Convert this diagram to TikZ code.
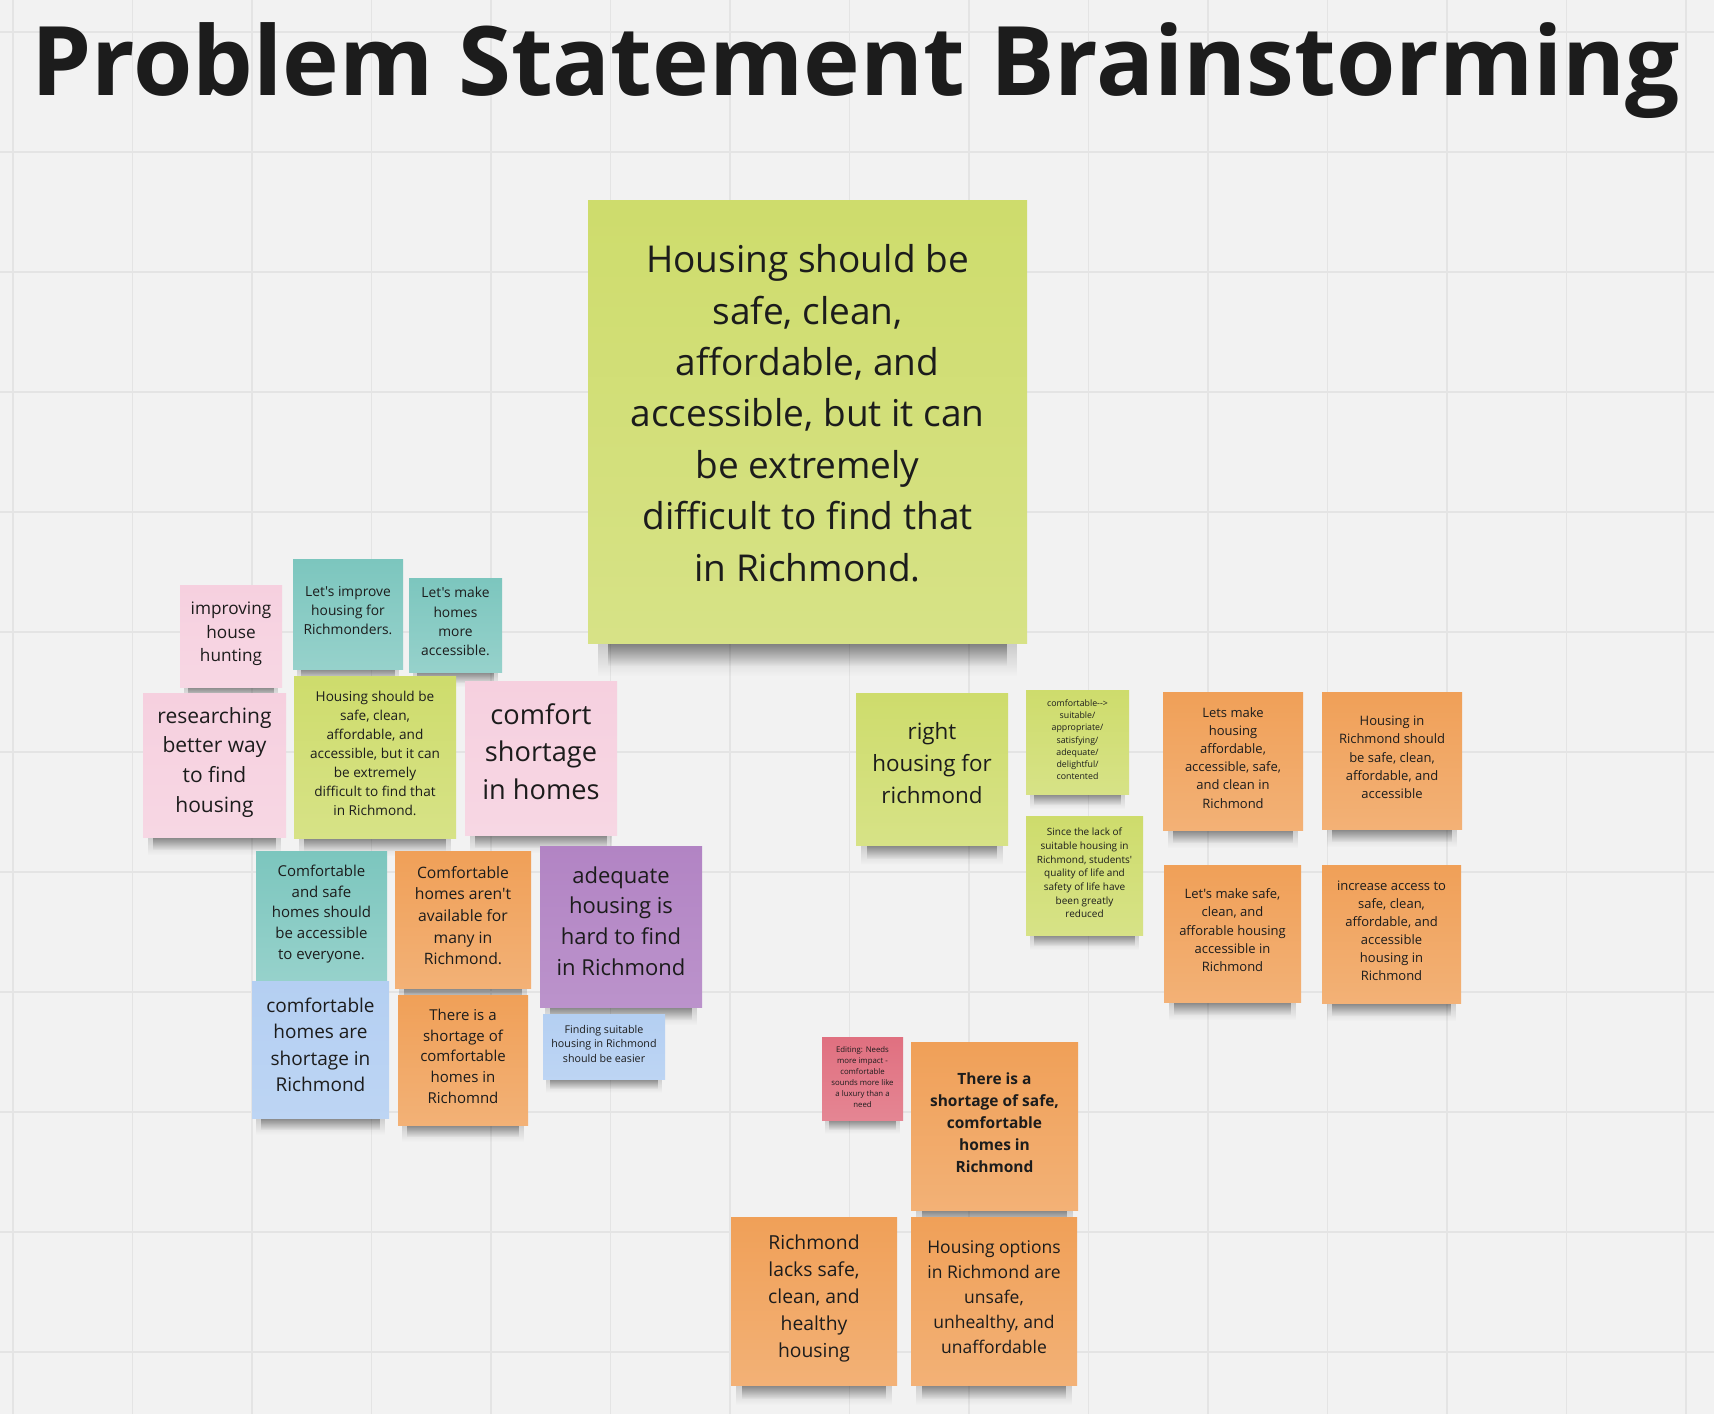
\documentclass[tikz,border=0pt]{standalone}
\usepackage{fontspec}
\setmainfont{Open Sans}[Ligatures=TeXOff]
\usepackage{xcolor}
\definecolor{boardbg}{RGB}{242,242,242}
\definecolor{boardgrid}{RGB}{228,228,228}
\definecolor{inkdark}{RGB}{28,28,28}
\definecolor{stlime}{RGB}{206,220,108}
\definecolor{stpink}{RGB}{246,208,223}
\definecolor{stteal}{RGB}{124,198,190}
\definecolor{storange}{RGB}{240,160,88}
\definecolor{stpurple}{RGB}{178,132,196}
\definecolor{stblue}{RGB}{180,207,242}
\definecolor{stred}{RGB}{224,112,128}
\usepackage{tikz}
\usetikzlibrary{calc, fadings}
\pgfdeclarelayer{boardlayer}
\pgfdeclarelayer{shadelayer}
\pgfsetlayers{boardlayer,shadelayer,main}
\newcommand{\nfont}[2]{\fontsize{#1bp}{#2bp}\selectfont}

\tikzset{
  sticky/.style={rectangle, inner sep=0pt, align=center, text=inkdark},
  notetext/.style 2 args={font=\nfont{#1}{#2}, text depth={0.5*#1bp}},
  limenote/.style={sticky, top color=stlime, bottom color=stlime!82!white},
  pinknote/.style={sticky, top color=stpink, bottom color=stpink!85!white},
  tealnote/.style={sticky, top color=stteal, bottom color=stteal!80!white},
  orangenote/.style={sticky, top color=storange, bottom color=storange!82!white},
  purplenote/.style={sticky, top color=stpurple, bottom color=stpurple!88!white},
  bluenote/.style={sticky, top color=stblue, bottom color=stblue!88!white},
  rednote/.style={sticky, top color=stred, bottom color=stred!85!white},
}

\begin{document}
\begin{tikzpicture}[x=1bp, y=-1bp]
  \useasboundingbox (0,0) rectangle (1714,1414);

  % Board and grid
  \begin{pgfonlayer}{boardlayer}
    \fill[boardbg] (0,0) rectangle (1714,1414);
    \foreach \k in {0,...,14}
      \draw[boardgrid, line width=1.3bp] ({13+119.5*\k},0) -- ({13+119.5*\k},1414);
    \foreach \k in {0,...,11}
      \draw[boardgrid, line width=1.3bp] (0,{32+120*\k}) -- (1714,{32+120*\k});
  \end{pgfonlayer}

  % Title
  \node[font=\bfseries\nfont{96}{110}, text=inkdark, anchor=base] (title) at (855.5,96) {Problem Statement Brainstorming};

  % --- Main statement ---
  \node[limenote, minimum width=439bp, minimum height=442bp, notetext={37}{51.4}] (mainstmt) at (807.5,422)
    {Housing should be\\safe, clean,\\affordable, and\\accessible, but it can\\be extremely\\difficult to find that\\in Richmond.};

  % --- Left cluster ---
  \node[pinknote, minimum width=102bp, minimum height=102bp, notetext={17.2}{23.3}] (hunting) at (231,636)
    {improving\\house\\hunting};
  \node[tealnote, minimum width=110bp, minimum height=110bp, notetext={13.8}{19}] (improve) at (348,614)
    {Let's improve\\housing for\\Richmonders.};
  \node[tealnote, minimum width=93bp, minimum height=94bp, notetext={13.8}{19.3}] (makehomes) at (455.5,625)
    {Let's make\\homes\\more\\accessible.};
  \node[pinknote, minimum width=143bp, minimum height=144bp, notetext={21}{29.7}] (research) at (214.5,765)
    {researching\\better way\\to find\\housing};
  \node[limenote, minimum width=162bp, minimum height=162bp, notetext={13.6}{19}] (smallstmt) at (375,757)
    {Housing should be\\safe, clean,\\affordable, and\\accessible, but it can\\be extremely\\difficult to find that\\in Richmond.};
  \node[pinknote, minimum width=152bp, minimum height=154bp, notetext={27.2}{37.5}] (comfort) at (541,758)
    {comfort\\shortage\\in homes};
  \node[tealnote, minimum width=131bp, minimum height=130bp, notetext={15}{20.8}] (safehomes) at (321.5,916)
    {Comfortable\\and safe\\homes should\\be accessible\\to everyone.};
  \node[orangenote, minimum width=136bp, minimum height=137bp, notetext={15.7}{21.7}] (available) at (463,919.5)
    {Comfortable\\homes aren't\\available for\\many in\\Richmond.};
  \node[purplenote, minimum width=162bp, minimum height=161bp, notetext={22}{30.9}] (adequate) at (621,926.5)
    {adequate\\housing is\\hard to find\\in Richmond};
  \node[bluenote, minimum width=137bp, minimum height=137bp, notetext={19}{26.4}] (shortblue) at (320.5,1049.5)
    {comfortable\\homes are\\shortage in\\Richmond};
  \node[orangenote, minimum width=130bp, minimum height=130bp, notetext={15}{20.8}] (shortorange) at (463,1060)
    {There is a\\shortage of\\comfortable\\homes in\\Richomnd};
  \node[bluenote, minimum width=122bp, minimum height=65bp, notetext={10.7}{14.7}] (finding) at (604,1046.5)
    {Finding suitable\\housing in Richmond\\should be easier};

  % --- Right cluster ---
  \node[limenote, minimum width=152bp, minimum height=152bp, notetext={22.4}{32}] (righthousing) at (932,769)
    {right\\housing for\\richmond};
  \node[limenote, minimum width=103bp, minimum height=104bp, notetext={8.8}{12.2}] (synonyms) at (1077.5,742)
    {comfortable-->\\suitable/\\appropriate/\\satisfying/\\adequate/\\delightful/\\contented};
  \node[limenote, minimum width=117bp, minimum height=119bp, notetext={10}{13.7}] (students) at (1084.5,875.5)
    {Since the lack of\\suitable housing in\\Richmond, students'\\quality of life and\\safety of life have\\been greatly\\reduced};
  \node[orangenote, minimum width=140bp, minimum height=138bp, notetext={13}{18.2}] (letsmake) at (1233,761)
    {Lets make\\housing\\affordable,\\accessible, safe,\\and clean in\\Richmond};
  \node[orangenote, minimum width=140bp, minimum height=137bp, notetext={13}{18.3}] (richshould) at (1392,760.5)
    {Housing in\\Richmond should\\be safe, clean,\\affordable, and\\accessible};
  \node[orangenote, minimum width=137bp, minimum height=137bp, notetext={13}{18.3}] (afforable) at (1232.5,933.5)
    {Let's make safe,\\clean, and\\afforable housing\\accessible in\\Richmond};
  \node[orangenote, minimum width=139bp, minimum height=138bp, notetext={13}{18.1}] (increase) at (1391.5,934)
    {increase access to\\safe, clean,\\affordable, and\\accessible\\housing in\\Richmond};

  % --- Bottom cluster ---
  \node[rednote, minimum width=81bp, minimum height=83bp, notetext={7.8}{11}] (editing) at (862.5,1078.5)
    {Editing: Needs\\more impact -\\comfortable\\sounds more like\\a luxury than a\\need};
  \node[orangenote, minimum width=167bp, minimum height=168bp, notetext={15.5}{22}, font=\bfseries\nfont{15.5}{22}] (finalstmt) at (994.5,1126)
    {There is a\\shortage of safe,\\comfortable\\homes in\\Richmond};
  \node[orangenote, minimum width=166bp, minimum height=168bp, notetext={19.3}{26.8}] (lacks) at (814,1301)
    {Richmond\\lacks safe,\\clean, and\\healthy\\housing};
  \node[orangenote, minimum width=166bp, minimum height=168bp, notetext={17.5}{25}] (options) at (994,1301)
    {Housing options\\in Richmond are\\unsafe,\\unhealthy, and\\unaffordable};

  % Shadows under the notes
  \begin{pgfonlayer}{shadelayer}
    \foreach \n/\d in {mainstmt/20, hunting/8, improve/8, makehomes/8, research/10, smallstmt/10,
                       comfort/10, safehomes/9, available/9, adequate/10, shortblue/9, shortorange/9,
                       finding/7, righthousing/11, synonyms/8, students/8, letsmake/10, richshould/10,
                       afforable/10, increase/10, editing/7, finalstmt/11, lacks/11, options/11}
    {
      \fill[black, opacity=.18, path fading=south] ($(\n.south west)+(0.5*\d,-3)$) rectangle ($(\n.south east)+(-0.5*\d,1.5*\d+3)$);
      \fill[black, opacity=.42, path fading=south] ($(\n.south west)+(\d,-3)$) rectangle ($(\n.south east)+(-\d,\d+3)$);
    }
  \end{pgfonlayer}
\end{tikzpicture}
\end{document}
